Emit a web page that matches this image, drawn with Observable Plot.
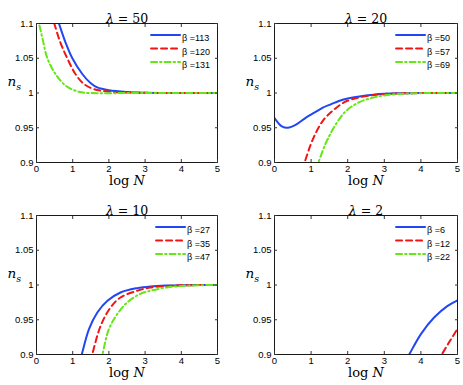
<!DOCTYPE html>
<html><head><meta charset="utf-8">
<script src="https://cdn.jsdelivr.net/npm/d3@7"></script>
<script src="https://cdn.jsdelivr.net/npm/@observablehq/plot@0.6"></script>
<style>
body{margin:0;background:#fff;}
#wrap{position:relative;width:463px;height:385px;overflow:hidden;background:#fff;}
.panel{position:absolute;}
</style></head><body><div id="wrap"></div>
<script>
// ---- tick labels / categories ----
const xTicks = [0, 1, 2, 3, 4, 5];
const yTicks = [0.9, 0.95, 1, 1.05, 1.1];
const lambdas = [50, 20, 10, 2];
const betas = [[113, 120, 131], [50, 57, 69], [27, 35, 47], [6, 12, 22]];

// ---- series values: [log N, n_s] ----
// lambda = 50
const l50_b113 = [[0.52,1.115],[0.62,1.1],[0.8,1.073],[0.99,1.05],[1.27,1.027],[1.5,1.014],[1.68,1.008],[2.0,1.004],[2.5,1.0015],[3,1.0005],[4,1.0],[5,1.0]];
const l50_b120 = [[0.4,1.114],[0.49,1.1],[0.65,1.074],[0.85,1.05],[1.08,1.027],[1.31,1.013],[1.59,1.0056],[2.0,1.002],[2.5,1.0007],[3,1.0002],[4,1.0],[5,1.0]];
const l50_b131 = [[0.0,1.116],[0.07,1.1],[0.18,1.075],[0.30,1.05],[0.53,1.027],[0.81,1.0104],[1.17,1.0017],[1.5,0.9999],[2,0.9998],[3,1.0],[5,1.0]];
// lambda = 20
const l20_b50 = [[0,0.964],[0.1,0.957],[0.2,0.952],[0.36,0.950],[0.6,0.955],[0.86,0.9647],[1.1,0.972],[1.32,0.979],[1.55,0.984],[1.78,0.9888],[2.0,0.992],[2.32,0.995],[2.7,0.9975],[3,0.9988],[3.5,0.9996],[4,1.0],[5,1.0]];
const l20_b57 = [[0.75,0.89],[0.82,0.9],[1.05,0.9337],[1.32,0.96],[1.59,0.9744],[1.91,0.9868],[2.3,0.9935],[2.7,0.997],[3.0,0.9985],[3.5,0.9995],[4,1.0],[5,1.0]];
const l20_b69 = [[1.13,0.89],[1.2,0.9],[1.41,0.9288],[1.68,0.9552],[1.96,0.9744],[2.32,0.9868],[2.7,0.9935],[3.0,0.9965],[3.5,0.999],[4,0.9998],[5,1.0]];
// lambda = 10
const l10_b27 = [[1.2,0.891],[1.25,0.9],[1.45,0.9365],[1.68,0.9604],[1.96,0.9773],[2.32,0.9892],[2.78,0.9955],[3.15,0.998],[3.6,0.9993],[4,0.9998],[5,1.0]];
const l10_b35 = [[1.49,0.89],[1.54,0.9],[1.77,0.941],[2.05,0.968],[2.32,0.982],[2.78,0.9917],[3.15,0.9964],[3.6,0.9985],[4,0.9995],[5,1.0]];
const l10_b47 = [[1.77,0.89],[1.82,0.9],[2.0,0.9365],[2.23,0.958],[2.51,0.975],[2.87,0.9873],[3.15,0.9917],[3.6,0.9965],[4,0.9985],[4.5,0.9997],[5,1.0]];
// lambda = 2
const l2_b6 = [[3.57,0.89],[3.68,0.9],[4.0,0.9294],[4.36,0.9532],[4.73,0.970],[5.0,0.978]];
const l2_b12 = [[4.45,0.89],[4.57,0.9],[4.8,0.92],[5.0,0.937]];
const l2_b22 = [];

const seriesByPanel = [
  [l50_b113, l50_b120, l50_b131],
  [l20_b50, l20_b57, l20_b69],
  [l10_b27, l10_b35, l10_b47],
  [l2_b6, l2_b12, l2_b22]
];

// ---- styles ----
const colors = ["#2246f2", "#f01515", "#66e614"];
const dashes = [null, "6,4", "6,3,1.5,3"];

const layouts = [
  {left: 0,   top: 0,   width: 231, height: 192, mL: 36, mR: 14, mT: 23, mB: 30},
  {left: 231, top: 0,   width: 232, height: 192, mL: 43, mR: 6,  mT: 23, mB: 30},
  {left: 0,   top: 192, width: 231, height: 193, mL: 36, mR: 14, mT: 23, mB: 31},
  {left: 231, top: 192, width: 232, height: 193, mL: 43, mR: 6,  mT: 23, mB: 31}
];

const ctx = document.createElement("canvas").getContext("2d");
ctx.font = "9px 'Liberation Sans'";

const lineShape = {draw(c, l) { c.moveTo(0, 0); c.lineTo(0, -l); }};

const wrap = document.getElementById("wrap");

lambdas.forEach((lam, p) => {
  const L = layouts[p];
  const labels = betas[p].map(b => `β =${b}`);
  const tw = d3.max(labels, s => ctx.measureText(s).width);
  const rowDy = [11.5, 25, 38.5];
  const lineLen = 29;
  const marks = [];
  // curves
  seriesByPanel[p].forEach((s, i) => {
    marks.push(Plot.line(s, {x: d => d[0], y: d => d[1], stroke: colors[i], strokeWidth: 2,
      strokeDasharray: dashes[i], curve: "catmull-rom", clip: true}));
  });
  // frame & axes
  marks.push(Plot.frame({stroke: "#1a1a1a"}));
  marks.push(Plot.axisX({anchor: "bottom", ticks: xTicks, tickSize: 0, tickPadding: 2.5, label: null, tickFormat: d => `${d}`}));
  marks.push(Plot.axisX({anchor: "bottom", ticks: xTicks, tickSize: -3, fill: "none", label: null, stroke: "#333"}));
  marks.push(Plot.axisX({anchor: "top", ticks: xTicks, tickSize: -3, fill: "none", label: null, stroke: "#333"}));
  marks.push(Plot.axisY({anchor: "left", ticks: yTicks, tickSize: 0, tickPadding: 3, label: null, tickFormat: d => `${d}`}));
  marks.push(Plot.axisY({anchor: "left", ticks: yTicks, tickSize: -3, fill: "none", label: null, stroke: "#333"}));
  marks.push(Plot.axisY({anchor: "right", ticks: yTicks, tickSize: -3, fill: "none", label: null, stroke: "#333"}));
  // title, axis labels
  marks.push(Plot.text([`λ = ${lam}`], {frameAnchor: "top", dy: -9.5, fontFamily: "DejaVu Serif", fontSize: 12.5}));
  marks.push(Plot.text(["log N"], {frameAnchor: "bottom", dy: 22, fontFamily: "DejaVu Serif", fontSize: 13}));
  marks.push(Plot.text(["n_s"], {frameAnchor: "left", dx: -29, dy: -11, textAnchor: "start", fontFamily: "DejaVu Serif", fontSize: 13.5}));
  // legend
  labels.forEach((lab, i) => {
    marks.push(Plot.vector([0], {frameAnchor: "top-right", dx: -(7.5 + tw + 2 + lineLen), dy: rowDy[i],
      rotate: 90, length: lineLen, anchor: "start", shape: lineShape,
      stroke: colors[i], strokeWidth: 2, strokeDasharray: dashes[i]}));
    marks.push(Plot.text([lab], {frameAnchor: "top-right", dx: -(7.5 + tw), dy: rowDy[i], textAnchor: "start",
      fontFamily: "Liberation Sans", fontSize: 9}));
  });

  const chart = Plot.plot({
    width: L.width, height: L.height,
    marginLeft: L.mL, marginRight: L.mR, marginTop: L.mT, marginBottom: L.mB,
    x: {domain: [0, 5]},
    y: {domain: [0.9, 1.1]},
    style: {fontFamily: "Liberation Sans", fontSize: "9.5px", color: "#000", background: "transparent", overflow: "visible"},
    marks
  });
  // math typography
  chart.querySelectorAll("text").forEach(t => {
    const s = t.textContent;
    if (s === "log N") t.innerHTML = 'log <tspan font-style="italic">N</tspan>';
    else if (s.startsWith("λ = ")) t.innerHTML = `<tspan font-style="italic">λ</tspan> = ${s.slice(4)}`;
    else if (s === "n_s") t.innerHTML = '<tspan font-style="italic">n</tspan><tspan font-style="italic" font-size="9.5" dy="3.5">s</tspan>';
  });
  const div = document.createElement("div");
  div.className = "panel";
  div.style.left = L.left + "px";
  div.style.top = L.top + "px";
  div.appendChild(chart);
  wrap.appendChild(div);
});
</script>
</body></html>
